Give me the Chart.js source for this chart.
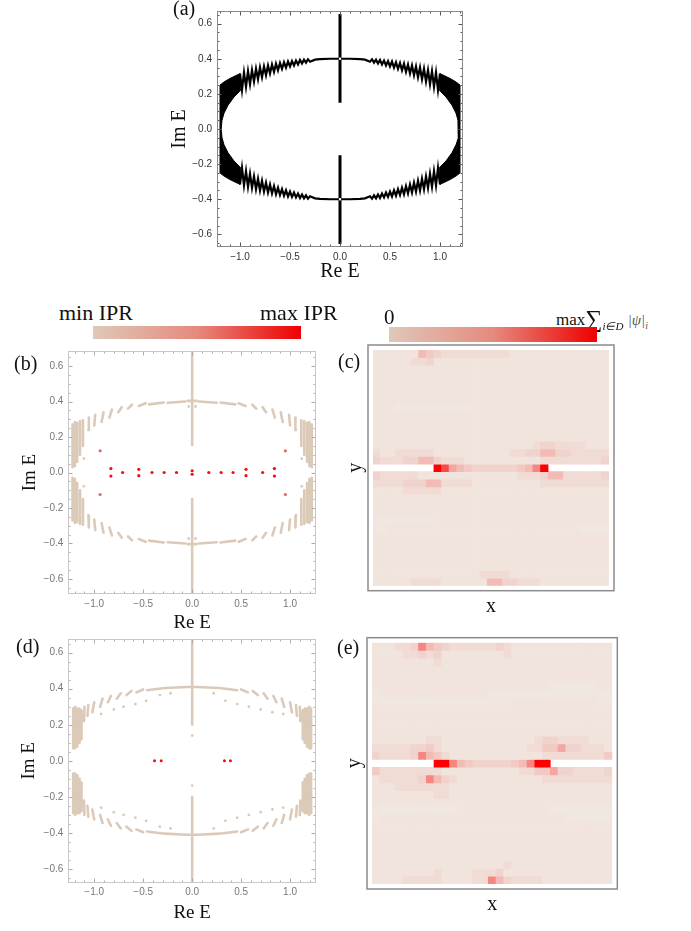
<!DOCTYPE html>
<html><head><meta charset="utf-8">
<script src="https://cdn.jsdelivr.net/npm/chart.js@4.4.1/dist/chart.umd.min.js"></script>
<style>
body{margin:0;background:#fff;width:691px;height:931px;position:relative;overflow:hidden;}
canvas{position:absolute;}
.lbl{position:absolute;font-family:'Liberation Serif',serif;color:#111;white-space:nowrap;line-height:1;}
.cbar{position:absolute;background:linear-gradient(to right,#dfc8b8,#e58a7e 50%,#ee0000);}
</style></head><body>
<canvas id="ca" width="350" height="290" style="left:130px;top:0px"></canvas>
<canvas id="cb" width="330" height="300" style="left:0px;top:340px"></canvas>
<canvas id="cc" width="290" height="290" style="left:340px;top:340px"></canvas>
<canvas id="cd" width="330" height="303" style="left:0px;top:628px"></canvas>
<canvas id="ce" width="290" height="301" style="left:340px;top:630px"></canvas>

<div class="lbl" style="left:173px;top:-2px;font-size:20px">(a)</div>
<div class="lbl" style="left:14px;top:353px;font-size:20px">(b)</div>
<div class="lbl" style="left:338px;top:351px;font-size:20px">(c)</div>
<div class="lbl" style="left:16px;top:636px;font-size:20px">(d)</div>
<div class="lbl" style="left:337px;top:637px;font-size:20px">(e)</div>

<div class="lbl" style="left:59px;top:302px;font-size:22px">min IPR</div>
<div class="lbl" style="left:260px;top:302px;font-size:22px">max IPR</div>
<div class="cbar" style="left:93px;top:326px;width:208px;height:13px"></div>

<div class="lbl" style="left:384px;top:307px;font-size:21px">0</div>
<div class="lbl" style="left:556px;top:305px;font-size:17px">max<span style="font-size:24px;position:relative;top:2px">∑</span><span style="font-size:11px;font-style:italic;position:relative;top:5px">i∈D</span> <span style="font-size:15px;color:#555;font-style:italic">|ψ|<sub style="font-size:10px">i</sub></span></div>
<div class="cbar" style="left:389px;top:327px;width:208px;height:15px"></div>

<script>
// ---------- tick labels ----------
const xTickValues = [-1.0, -0.5, 0.0, 0.5, 1.0];
const yTickValues = [-0.6, -0.4, -0.2, 0.0, 0.2, 0.4, 0.6];

// ---------- panel (a): spectrum, black ----------
const aUpperX = [-1.0,-0.98,-0.96,-0.94,-0.92,-0.9,-0.88,-0.86,-0.84,-0.82,-0.8,-0.78,-0.76,-0.74,-0.72,-0.7,-0.68,-0.66,-0.64,-0.62,-0.6,-0.58,-0.56,-0.54,-0.52,-0.5,-0.48,-0.46,-0.44,-0.42,-0.4,-0.38,-0.36,-0.34,-0.32,-0.3,
 -0.25,-0.2,-0.1,0,0.1,0.2,0.25,
 0.3,0.32,0.34,0.36,0.38,0.4,0.42,0.44,0.46,0.48,0.5,0.52,0.54,0.56,0.58,0.6,0.62,0.64,0.66,0.68,0.7,0.72,0.74,0.76,0.78,0.8,0.82,0.84,0.86,0.88,0.9,0.92,0.94,0.96,0.98,1.0];
const aUpperY = [0.315,0.222,0.322,0.24,0.329,0.255,0.336,0.27,0.343,0.283,0.35,0.295,0.356,0.306,0.362,0.316,0.367,0.325,0.372,0.334,0.376,0.342,0.38,0.349,0.384,0.356,0.387,0.362,0.39,0.368,0.393,0.373,0.395,0.378,0.397,0.383,
 0.395,0.398,0.4,0.4,0.4,0.398,0.395,
 0.383,0.397,0.378,0.395,0.373,0.393,0.368,0.39,0.362,0.387,0.356,0.384,0.349,0.38,0.342,0.376,0.334,0.372,0.325,0.367,0.316,0.362,0.306,0.356,0.295,0.35,0.283,0.343,0.27,0.336,0.255,0.329,0.24,0.322,0.222,0.315];
const aLowerX = aUpperX;
const aLowerY = [-0.315,-0.222,-0.322,-0.24,-0.329,-0.255,-0.336,-0.27,-0.343,-0.283,-0.35,-0.295,-0.356,-0.306,-0.362,-0.316,-0.367,-0.325,-0.372,-0.334,-0.376,-0.342,-0.38,-0.349,-0.384,-0.356,-0.387,-0.362,-0.39,-0.368,-0.393,-0.373,-0.395,-0.378,-0.397,-0.383,
 -0.395,-0.398,-0.4,-0.4,-0.4,-0.398,-0.395,
 -0.383,-0.397,-0.378,-0.395,-0.373,-0.393,-0.368,-0.39,-0.362,-0.387,-0.356,-0.384,-0.349,-0.38,-0.342,-0.376,-0.334,-0.372,-0.325,-0.367,-0.316,-0.362,-0.306,-0.356,-0.295,-0.35,-0.283,-0.343,-0.27,-0.336,-0.255,-0.329,-0.24,-0.322,-0.222,-0.315];
const aLeftEdgeX = [-1.2,-1.2,-1.16,-1.11,-1.05,-1.0,-1.0,-1.06,-1.12,-1.16,-1.18,-1.188,-1.18,-1.16,-1.12,-1.06,-1.0,-1.0,-1.05,-1.11,-1.16,-1.2];
const aLeftEdgeY = [-0.25,0.25,0.268,0.285,0.302,0.315,0.217,0.182,0.135,0.09,0.05,0,-0.05,-0.09,-0.135,-0.182,-0.217,-0.315,-0.302,-0.285,-0.268,-0.25];
const aRightEdgeX = [1.2,1.2,1.16,1.11,1.05,1.0,1.0,1.06,1.12,1.16,1.18,1.188,1.18,1.16,1.12,1.06,1.0,1.0,1.05,1.11,1.16,1.2];
const aRightEdgeY = [-0.25,0.25,0.268,0.285,0.302,0.315,0.217,0.182,0.135,0.09,0.05,0,-0.05,-0.09,-0.135,-0.182,-0.217,-0.315,-0.302,-0.285,-0.268,-0.25];
const aVertSegs = [[0,0.15,0,0.655],[0,-0.15,0,-0.655]];
const aGapX = [0,0];
const aGapY = [0.4,-0.4];

// ---------- panel (b): IPR-coloured spectrum ----------
const bArcSegs = [
 [-1.222,0.03,-1.222,0.27],[-1.198,0.035,-1.198,0.285],[-1.174,0.06,-1.174,0.28],[-1.145,0.1,-1.145,0.29],[-1.115,0.15,-1.115,0.295],[-1.06,0.24,-1.055,0.31],[-1.0,0.265,-0.99,0.325],[-0.925,0.285,-0.905,0.34],[-0.845,0.31,-0.82,0.355],[-0.755,0.34,-0.72,0.368],[-0.655,0.36,-0.615,0.382],[-0.545,0.375,-0.475,0.39],[-0.44,0.384,-0.29,0.395],[-0.25,0.393,-0.07,0.4],
 [1.222,0.03,1.222,0.27],[1.198,0.035,1.198,0.285],[1.174,0.06,1.174,0.28],[1.145,0.1,1.145,0.29],[1.115,0.15,1.115,0.295],[1.06,0.24,1.055,0.31],[1.0,0.265,0.99,0.325],[0.925,0.285,0.905,0.34],[0.845,0.31,0.82,0.355],[0.755,0.34,0.72,0.368],[0.655,0.36,0.615,0.382],[0.545,0.375,0.475,0.39],[0.44,0.384,0.29,0.395],[0.25,0.393,0.07,0.4],
 [-1.222,-0.03,-1.222,-0.27],[-1.198,-0.035,-1.198,-0.285],[-1.174,-0.06,-1.174,-0.28],[-1.145,-0.1,-1.145,-0.29],[-1.115,-0.15,-1.115,-0.295],[-1.06,-0.24,-1.055,-0.31],[-1.0,-0.265,-0.99,-0.325],[-0.925,-0.285,-0.905,-0.34],[-0.845,-0.31,-0.82,-0.355],[-0.755,-0.34,-0.72,-0.368],[-0.655,-0.36,-0.615,-0.382],[-0.545,-0.375,-0.475,-0.39],[-0.44,-0.384,-0.29,-0.395],[-0.25,-0.393,-0.07,-0.4],
 [1.222,-0.03,1.222,-0.27],[1.198,-0.035,1.198,-0.285],[1.174,-0.06,1.174,-0.28],[1.145,-0.1,1.145,-0.29],[1.115,-0.15,1.115,-0.295],[1.06,-0.24,1.055,-0.31],[1.0,-0.265,0.99,-0.325],[0.925,-0.285,0.905,-0.34],[0.845,-0.31,0.82,-0.355],[0.755,-0.34,0.72,-0.368],[0.655,-0.36,0.615,-0.382],[0.545,-0.375,0.475,-0.39],[0.44,-0.384,0.29,-0.395],[0.25,-0.393,0.07,-0.4],
 [-0.045,0.404,0.045,0.404],[-0.045,-0.404,0.045,-0.404],
 [0,0.155,0,0.675],[0,-0.15,0,-0.685]
];
const bDotX = [-1.106,-1.106,1.12,1.12,-0.035,0.035,-0.035,0.035];
const bDotY = [0.078,-0.078,0.078,-0.078,0.372,0.372,-0.372,-0.372];
const bRedX = [-0.83,-0.83,-0.71,-0.545,-0.545,-0.41,-0.286,-0.16,0.0,0.0,0.17,0.296,0.418,0.55,0.55,0.72,0.84,0.84];
const bRedY = [0.022,-0.02,0,0.018,-0.018,0,0,0,0.01,-0.01,0,0,0,0.018,-0.018,0,0.022,-0.02];
const bPinkX = [-0.94,-0.94,0.952,0.952];
const bPinkY = [0.122,-0.124,0.122,-0.124];

// ---------- panel (d) ----------
const dArcSegs = [
 [-1.215,0.07,-1.215,0.29],[-1.195,0.07,-1.195,0.3],[-1.172,0.08,-1.172,0.29],[-1.15,0.1,-1.15,0.29],[-1.13,0.12,-1.13,0.28],[-1.105,0.22,-1.1,0.3],[-1.07,0.25,-1.06,0.31],[-1.02,0.27,-1.0,0.325],[-0.94,0.3,-0.915,0.345],[-0.86,0.325,-0.83,0.36],[-0.77,0.345,-0.73,0.375],[-0.67,0.365,-0.62,0.388],[-0.57,0.38,-0.5,0.396],[-0.46,0.392,-0.3,0.403],[-0.28,0.404,-0.05,0.41],
 [1.215,0.07,1.215,0.29],[1.195,0.07,1.195,0.3],[1.172,0.08,1.172,0.29],[1.15,0.1,1.15,0.29],[1.13,0.12,1.13,0.28],[1.105,0.22,1.1,0.3],[1.07,0.25,1.06,0.31],[1.02,0.27,1.0,0.325],[0.94,0.3,0.915,0.345],[0.86,0.325,0.83,0.36],[0.77,0.345,0.73,0.375],[0.67,0.365,0.62,0.388],[0.57,0.38,0.5,0.396],[0.46,0.392,0.3,0.403],[0.28,0.404,0.05,0.41],
 [-1.215,-0.07,-1.215,-0.29],[-1.195,-0.07,-1.195,-0.3],[-1.172,-0.08,-1.172,-0.29],[-1.15,-0.1,-1.15,-0.29],[-1.13,-0.12,-1.13,-0.28],[-1.105,-0.22,-1.1,-0.3],[-1.07,-0.25,-1.06,-0.31],[-1.02,-0.27,-1.0,-0.325],[-0.94,-0.3,-0.915,-0.345],[-0.86,-0.325,-0.83,-0.36],[-0.77,-0.345,-0.73,-0.375],[-0.67,-0.365,-0.62,-0.388],[-0.57,-0.38,-0.5,-0.396],[-0.46,-0.392,-0.3,-0.403],[-0.28,-0.404,-0.05,-0.41],
 [1.215,-0.07,1.215,-0.29],[1.195,-0.07,1.195,-0.3],[1.172,-0.08,1.172,-0.29],[1.15,-0.1,1.15,-0.29],[1.13,-0.12,1.13,-0.28],[1.105,-0.22,1.1,-0.3],[1.07,-0.25,1.06,-0.31],[1.02,-0.27,1.0,-0.325],[0.94,-0.3,0.915,-0.345],[0.86,-0.325,0.83,-0.36],[0.77,-0.345,0.73,-0.375],[0.67,-0.365,0.62,-0.388],[0.57,-0.38,0.5,-0.396],[0.46,-0.392,0.3,-0.403],[0.28,-0.404,0.05,-0.41],
 [-0.045,0.41,0.045,0.41],[-0.045,-0.41,0.045,-0.41],
 [0,0.2,0,0.67],[0,-0.2,0,-0.675]
];
const dDotX = [-0.93,-0.80,-0.70,-0.58,-0.47,-0.33,-0.22,0.22,0.34,0.46,0.58,0.70,0.82,0.93,-0.93,-0.80,-0.70,-0.58,-0.47,-0.33,-0.22,0.22,0.34,0.46,0.58,0.70,0.82,0.93,0,0];
const dDotY = [0.26,0.285,0.30,0.315,0.333,0.365,0.375,0.375,0.333,0.315,0.30,0.285,0.27,0.26,-0.26,-0.285,-0.30,-0.315,-0.333,-0.365,-0.375,-0.375,-0.333,-0.315,-0.30,-0.285,-0.27,-0.26,0.14,-0.137];
const dRedX = [-0.384,-0.316,0.33,0.391];
const dRedY = [0,0,0,0];

// ---------- heatmaps (c), (e): one string per row y (top->bottom), one char per column x ----------
// '.' = no site, digits = level index into hmLevels
const hmLevels = [0, 0.015, 0.05, 0.085, 0.13, 0.19, 0.28, 0.42, 0.68, 1.0];
const heatRowsC = [
 "1111115432222222221111111111111",
 "1111122311111111111111111111111",
 "1111111111111111111111111111111",
 "1111111111111111111111111111111",
 "1111111111111111111111111111111",
 "1111111111111111111111111111111",
 "1111111111111111111111111111111",
 "1110000000000111111111111111111",
 "1111111111111111111111111111111",
 "1111111111111111111111111111111",
 "1111111111111111111111111111111",
 "1111111111111111111111111111111",
 "1111111111111111111112332222111",
 "2112222211111111112233553322222",
 "3222335532221111111111222222223",
 "........986543333334579........",
 "3222221111111111111222355222223",
 "2222333552222111111111222222222",
 "1111222221111111111111111111111",
 "1111111111111111111111111111111",
 "1111111111111111111111111111111",
 "1111111111111111111111111111111",
 "0000000011111111111111111111111",
 "0011111111111111111111111110000",
 "1111111111111111111111111111111",
 "1111111111111111111111111111111",
 "1111111111111111111111111111111",
 "1111111111111111111111111111111",
 "1111111111111111111111111111111",
 "1111111111111122221111111111111",
 "1111122221111115533222111111111"
];
const heatRowsE = [
 "1112237543222222321111111111111",
 "1111223231111111121111111111111",
 "1111111121111111111111111111111",
 "1111111111111111111111111111111",
 "1111111111111111111111111111111",
 "1111111111111111111111100000011",
 "0111111111111110000000000000000",
 "0000000000000000001111111111100",
 "1111111111111111111111111111111",
 "1111111111111111111111111111111",
 "1111111111111111111111111111111",
 "1111111111111111111111111111111",
 "1111111221111111111112332222111",
 "2222233421111111111122446332221",
 "3222237542111111111111222222224",
 "........997543333345799........",
 "4222222221111111111224463322223",
 "1222223753211111111111222222222",
 "1112222222111111111111111111111",
 "1111111122111111111111111111111",
 "1111111111111111111111111111111",
 "0000000000011111111111100000000",
 "0111111111111111111111111000000",
 "1111111111111111111111111111111",
 "1111111111111111111111111111111",
 "1111111111111111111111111111111",
 "1111111111111111111111111111111",
 "1111111111111111111111111111111",
 "1111111111111111121111111111111",
 "1111111121111222311111111111111",
 "1111222221111227532222111111111"
];
const hmCols = ['1','2','3','4','5','6','7','8','9','10','11','12','13','14','15','16','17','18','19','20','21','22','23','24','25','26','27','28','29','30','31'];

// ================= rendering =================
Chart.defaults.font.family = "'Liberation Sans', Arial, sans-serif";
const fmt = v => (v < 0 ? '\u2212' : '') + Math.abs(v).toFixed(1);
const pts = (xs, ys) => xs.map((x, i) => ({x: x, y: ys[i]}));
const segs = list => { const o = []; list.forEach(s => { o.push({x:s[0],y:s[1]},{x:s[2],y:s[3]},{x:null,y:null}); }); return o; };

const frameTicks = {
  id: 'frameTicks',
  afterDraw(chart, args, o) {
    if (!o || !o.on) return;
    const {ctx, chartArea: a, scales: {x, y}} = chart;
    ctx.save();
    ctx.lineWidth = 1;
    ctx.strokeStyle = o.tickColor;
    const L = Math.round(a.left) + 0.5, R = Math.round(a.right) - 0.5, T = Math.round(a.top) + 0.5, B = Math.round(a.bottom) - 0.5;
    const xt = (v, len) => { const p = Math.round(x.getPixelForValue(v)) + 0.5; ctx.beginPath(); ctx.moveTo(p, B); ctx.lineTo(p, B - len); ctx.moveTo(p, T); ctx.lineTo(p, T + len); ctx.stroke(); };
    const yt = (v, len) => { const p = Math.round(y.getPixelForValue(v)) + 0.5; ctx.beginPath(); ctx.moveTo(L, p); ctx.lineTo(L + len, p); ctx.moveTo(R, p); ctx.lineTo(R - len, p); ctx.stroke(); };
    for (let k = -12; k <= 12; k++) { const v = k / 10; if (v > x.min && v < x.max) xt(v, k % 5 === 0 ? o.major : o.minor); }
    for (let k = -13; k <= 13; k++) { const v = k / 20; if (v > y.min && v < y.max) yt(v, k % 4 === 0 ? o.major : o.minor); }
    ctx.strokeStyle = o.frameColor;
    ctx.strokeRect(L, T, R - L, B - T);
    ctx.restore();
  }
};
const heatFrame = {
  id: 'heatFrame',
  afterDraw(chart, args, o) {
    if (!o || !o.on) return;
    const {ctx, chartArea: a} = chart;
    ctx.save();
    ctx.lineWidth = 1.5; ctx.strokeStyle = '#8c8c8c';
    ctx.strokeRect(a.left - 5, a.top - 5, a.right - a.left + 10, a.bottom - a.top + 10);
    ctx.restore();
  }
};

function makeSci(id, datasets, c) {
  return new Chart(document.getElementById(id), {
    type: 'scatter',
    data: {datasets},
    options: {
      responsive: false, animation: false, devicePixelRatio: 1,
      layout: {padding: c.pad},
      plugins: {legend: {display: false}, tooltip: {enabled: false},
        frameTicks: {on: true, tickColor: c.tickColor, frameColor: c.frameColor, major: 4, minor: 2}},
      elements: {line: {tension: 0}},
      scales: {
        x: {type: 'linear', min: c.xr[0], max: c.xr[1],
          afterBuildTicks: s => { s.ticks = xTickValues.map(v => ({value: v})); },
          afterFit: s => { s.height = c.xh; },
          grid: {display: false, drawTicks: false}, border: {display: false},
          ticks: {autoSkip: false, maxRotation: 0, padding: c.xtpad, color: c.tc, font: {size: c.ts}, callback: v => fmt(v)},
          title: {display: true, text: 'Re E', color: '#111', font: {family: "'Liberation Serif', serif", size: c.ttl}, padding: {top: 0, bottom: c.xtp}}},
        y: {type: 'linear', min: c.yr[0], max: c.yr[1],
          afterBuildTicks: s => { s.ticks = yTickValues.map(v => ({value: v})); },
          afterFit: s => { s.width = c.yw; },
          grid: {display: false, drawTicks: false}, border: {display: false},
          ticks: {autoSkip: false, padding: c.ytpad, color: c.tc, font: {size: c.ts}, callback: v => fmt(v)},
          title: {display: true, text: 'Im E', color: '#111', font: {family: "'Liberation Serif', serif", size: c.ttl}, padding: {top: c.ytp, bottom: 0}}}
      }
    },
    plugins: [frameTicks]
  });
}

// (a)
makeSci('ca', [
  {data: pts(aGapX, aGapY), pointRadius: 1.6, pointStyle: 'rect', backgroundColor: '#fff', borderWidth: 0},
  {data: segs(aVertSegs), showLine: true, spanGaps: false, borderColor: '#000', borderWidth: 3, pointRadius: 0},
  {data: pts(aUpperX, aUpperY), showLine: true, borderColor: '#000', borderWidth: 2.2, pointRadius: 0},
  {data: pts(aLowerX, aLowerY), showLine: true, borderColor: '#000', borderWidth: 2.2, pointRadius: 0},
  {data: pts(aLeftEdgeX, aLeftEdgeY), showLine: true, fill: 'shape', backgroundColor: '#000', borderColor: '#000', borderWidth: 1, pointRadius: 0},
  {data: pts(aRightEdgeX, aRightEdgeY), showLine: true, fill: 'shape', backgroundColor: '#000', borderColor: '#000', borderWidth: 1, pointRadius: 0}
], {pad: {left: 0, right: 17, top: 0.5, bottom: 0}, xr: [-1.23, 1.23], yr: [-0.672, 0.672], xh: 43, yw: 87,
    xtpad: 4, ytpad: 5, tc: '#333', ts: 10, ttl: 20, xtp: 6, ytp: 38, tickColor: '#555', frameColor: '#888'});

const BEIGE = '#dccab9';
// (b)
makeSci('cb', [
  {data: pts(bRedX, bRedY), pointRadius: 1.6, backgroundColor: '#ee1111', borderWidth: 0},
  {data: pts(bPinkX, bPinkY), pointRadius: 1.6, backgroundColor: '#e06a66', borderWidth: 0},
  {data: pts(bDotX, bDotY), pointRadius: 1.4, backgroundColor: BEIGE, borderWidth: 0},
  {data: segs(bArcSegs), showLine: true, spanGaps: false, borderColor: BEIGE, borderWidth: 2.6, borderCapStyle: 'round', pointRadius: 0}
], {pad: {left: 0, right: 14, top: 6.7, bottom: 0}, xr: [-1.265, 1.265], yr: [-0.685, 0.685], xh: 46, yw: 68.3,
    xtpad: 4, ytpad: 5, tc: '#777', ts: 10, ttl: 19, xtp: 6, ytp: 19, tickColor: '#aaa', frameColor: '#c8c8c8'});

// (d)
makeSci('cd', [
  {data: pts(dRedX, dRedY), pointRadius: 1.5, backgroundColor: '#ee1111', borderWidth: 0},
  {data: pts(dDotX, dDotY), pointRadius: 1.4, backgroundColor: BEIGE, borderWidth: 0},
  {data: segs(dArcSegs), showLine: true, spanGaps: false, borderColor: BEIGE, borderWidth: 2.6, borderCapStyle: 'round', pointRadius: 0}
], {pad: {left: 0, right: 14, top: 7, bottom: 0}, xr: [-1.265, 1.265], yr: [-0.676, 0.676], xh: 48.3, yw: 68.3,
    xtpad: 4, ytpad: 5, tc: '#777', ts: 10, ttl: 19, xtp: 6.6, ytp: 18, tickColor: '#aaa', frameColor: '#c8c8c8'});

function heatColor(v) {
  return 'rgb(' + Math.round(240 + 15 * v) + ',' + Math.round(231 * (1 - v)) + ',' + Math.round(224 * (1 - v)) + ')';
}
function makeHeat(id, rows, c) {
  const datasets = rows.map((row, r) => ({
    data: Array.from(row).map(ch => ch === '.' ? null : [r, r + 1]),
    backgroundColor: Array.from(row).map(ch => ch === '.' ? 'rgba(0,0,0,0)' : heatColor(hmLevels[+ch])),
    borderWidth: 0, barPercentage: 1, categoryPercentage: 1, grouped: false
  }));
  return new Chart(document.getElementById(id), {
    type: 'bar',
    data: {labels: hmCols, datasets},
    options: {
      responsive: false, animation: false, devicePixelRatio: 1,
      layout: {padding: c.pad},
      plugins: {legend: {display: false}, tooltip: {enabled: false}, heatFrame: {on: true}},
      scales: {
        x: {type: 'category', afterFit: s => { s.height = c.xh; },
          ticks: {display: false}, grid: {display: false, drawTicks: false}, border: {display: false},
          title: {display: true, text: 'x', color: '#111', font: {family: "'Liberation Serif', serif", size: 20}, padding: {top: 0, bottom: c.xtp}}},
        y: {type: 'linear', min: 0, max: 31, reverse: true, afterFit: s => { s.width = c.yw; },
          ticks: {display: false}, grid: {display: false, drawTicks: false}, border: {display: false},
          title: {display: true, text: 'y', color: '#111', font: {family: "'Liberation Serif', serif", size: 20}, padding: {top: c.ytp, bottom: 0}}}
      }
    },
    plugins: [heatFrame]
  });
}
makeHeat('cc', heatRowsC, {pad: {left: 0, right: 21, top: 10, bottom: 0}, xh: 44.3, yw: 33, xtp: 11, ytp: 4});
makeHeat('ce', heatRowsE, {pad: {left: 0, right: 17.7, top: 12.7, bottom: 0}, xh: 47, yw: 32, xtp: 14, ytp: 3});
</script>
</body></html>
